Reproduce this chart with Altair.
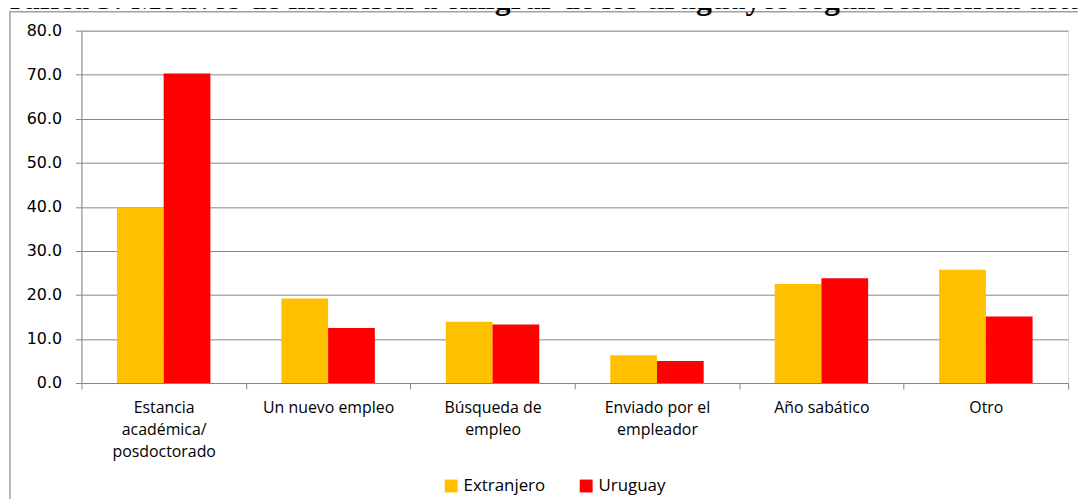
import altair as alt
import pandas as pd

categories = ["Estancia|académica/|posdoctorado", "Un nuevo empleo", "Búsqueda de|empleo",
              "Enviado por el|empleador", "Año sabático", "Otro"]
series = ["Extranjero", "Uruguay"]
extranjero = [39.8, 19.2, 13.9, 6.3, 22.5, 25.7]
uruguay = [70.3, 12.5, 13.3, 5.0, 23.8, 15.1]
colors = ["#FFC000", "#FF0000"]
y_ticks = [0, 10, 20, 30, 40, 50, 60, 70, 80]
title_text = "Gráfica 5: Motivos de intención a emigrar de los uruguayos según residencia actual"

rows = []
for c, e, u in zip(categories, extranjero, uruguay):
    rows.append({"cat": c, "serie": series[0], "valor": e})
    rows.append({"cat": c, "serie": series[1], "valor": u})
df = pd.DataFrame(rows)

grid_gray = "#878787"

bars = alt.Chart(df).mark_bar().encode(
    x=alt.X("cat:N", sort=categories,
            scale=alt.Scale(paddingInner=0, paddingOuter=0),
            axis=alt.Axis(title=None, labelAngle=0, tickBand="extent",
                          labelExpr="split(datum.label, '|')",
                          labelFont="Open Sans", labelFontSize=16, labelColor="#000000",
                          labelLineHeight=22, labelPadding=11, labelBaseline="top",
                          domainColor=grid_gray, tickColor=grid_gray, tickSize=6,
                          grid=False)),
    xOffset=alt.XOffset("serie:N", sort=series,
                        scale=alt.Scale(paddingInner=0, paddingOuter=0.76)),
    y=alt.Y("valor:Q", scale=alt.Scale(domain=[0, 80], nice=False),
            axis=alt.Axis(title=None, values=y_ticks, format=".1f",
                          labelFont="DejaVu Sans", labelFontSize=16, labelColor="#000000",
                          labelPadding=14, tickSize=6, tickColor=grid_gray,
                          domainColor=grid_gray, gridColor=grid_gray, grid=True)),
    color=alt.Color("serie:N", sort=series,
                    scale=alt.Scale(domain=series, range=colors),
                    legend=alt.Legend(title=None, orient="none", legendX=364, legendY=450,
                                      direction="horizontal", symbolType="square",
                                      symbolSize=169, symbolStrokeWidth=0,
                                      labelFont="Open Sans", labelFontSize=17,
                                      labelColor="#000000", labelOffset=4,
                                      columnPadding=32, padding=0)),
)

border = alt.Chart(pd.DataFrame({"a": [0]})).mark_rect(
    fill="transparent", stroke="#a0a0a0", strokeWidth=1.5
).encode(x=alt.value(-72), y=alt.value(-19), x2=alt.value(1200), y2=alt.value(700))

title = alt.Chart(pd.DataFrame({"t": [title_text]})).mark_text(
    font="Liberation Serif", fontWeight="bold", fontSize=32, baseline="alphabetic",
    align="center", color="#000000"
).encode(text="t:N", x=alt.value(470), y=alt.value(-21.5))

chart = alt.layer(border, bars, title).properties(
    width=994, height=355,
    autosize=alt.AutoSizeParams(type="none"),
    padding={"left": 74, "top": 21, "right": 10, "bottom": 115},
).configure_view(stroke=None).configure(background="white")

chart.save("out.html", embed_options={"renderer": "svg", "actions": False})
